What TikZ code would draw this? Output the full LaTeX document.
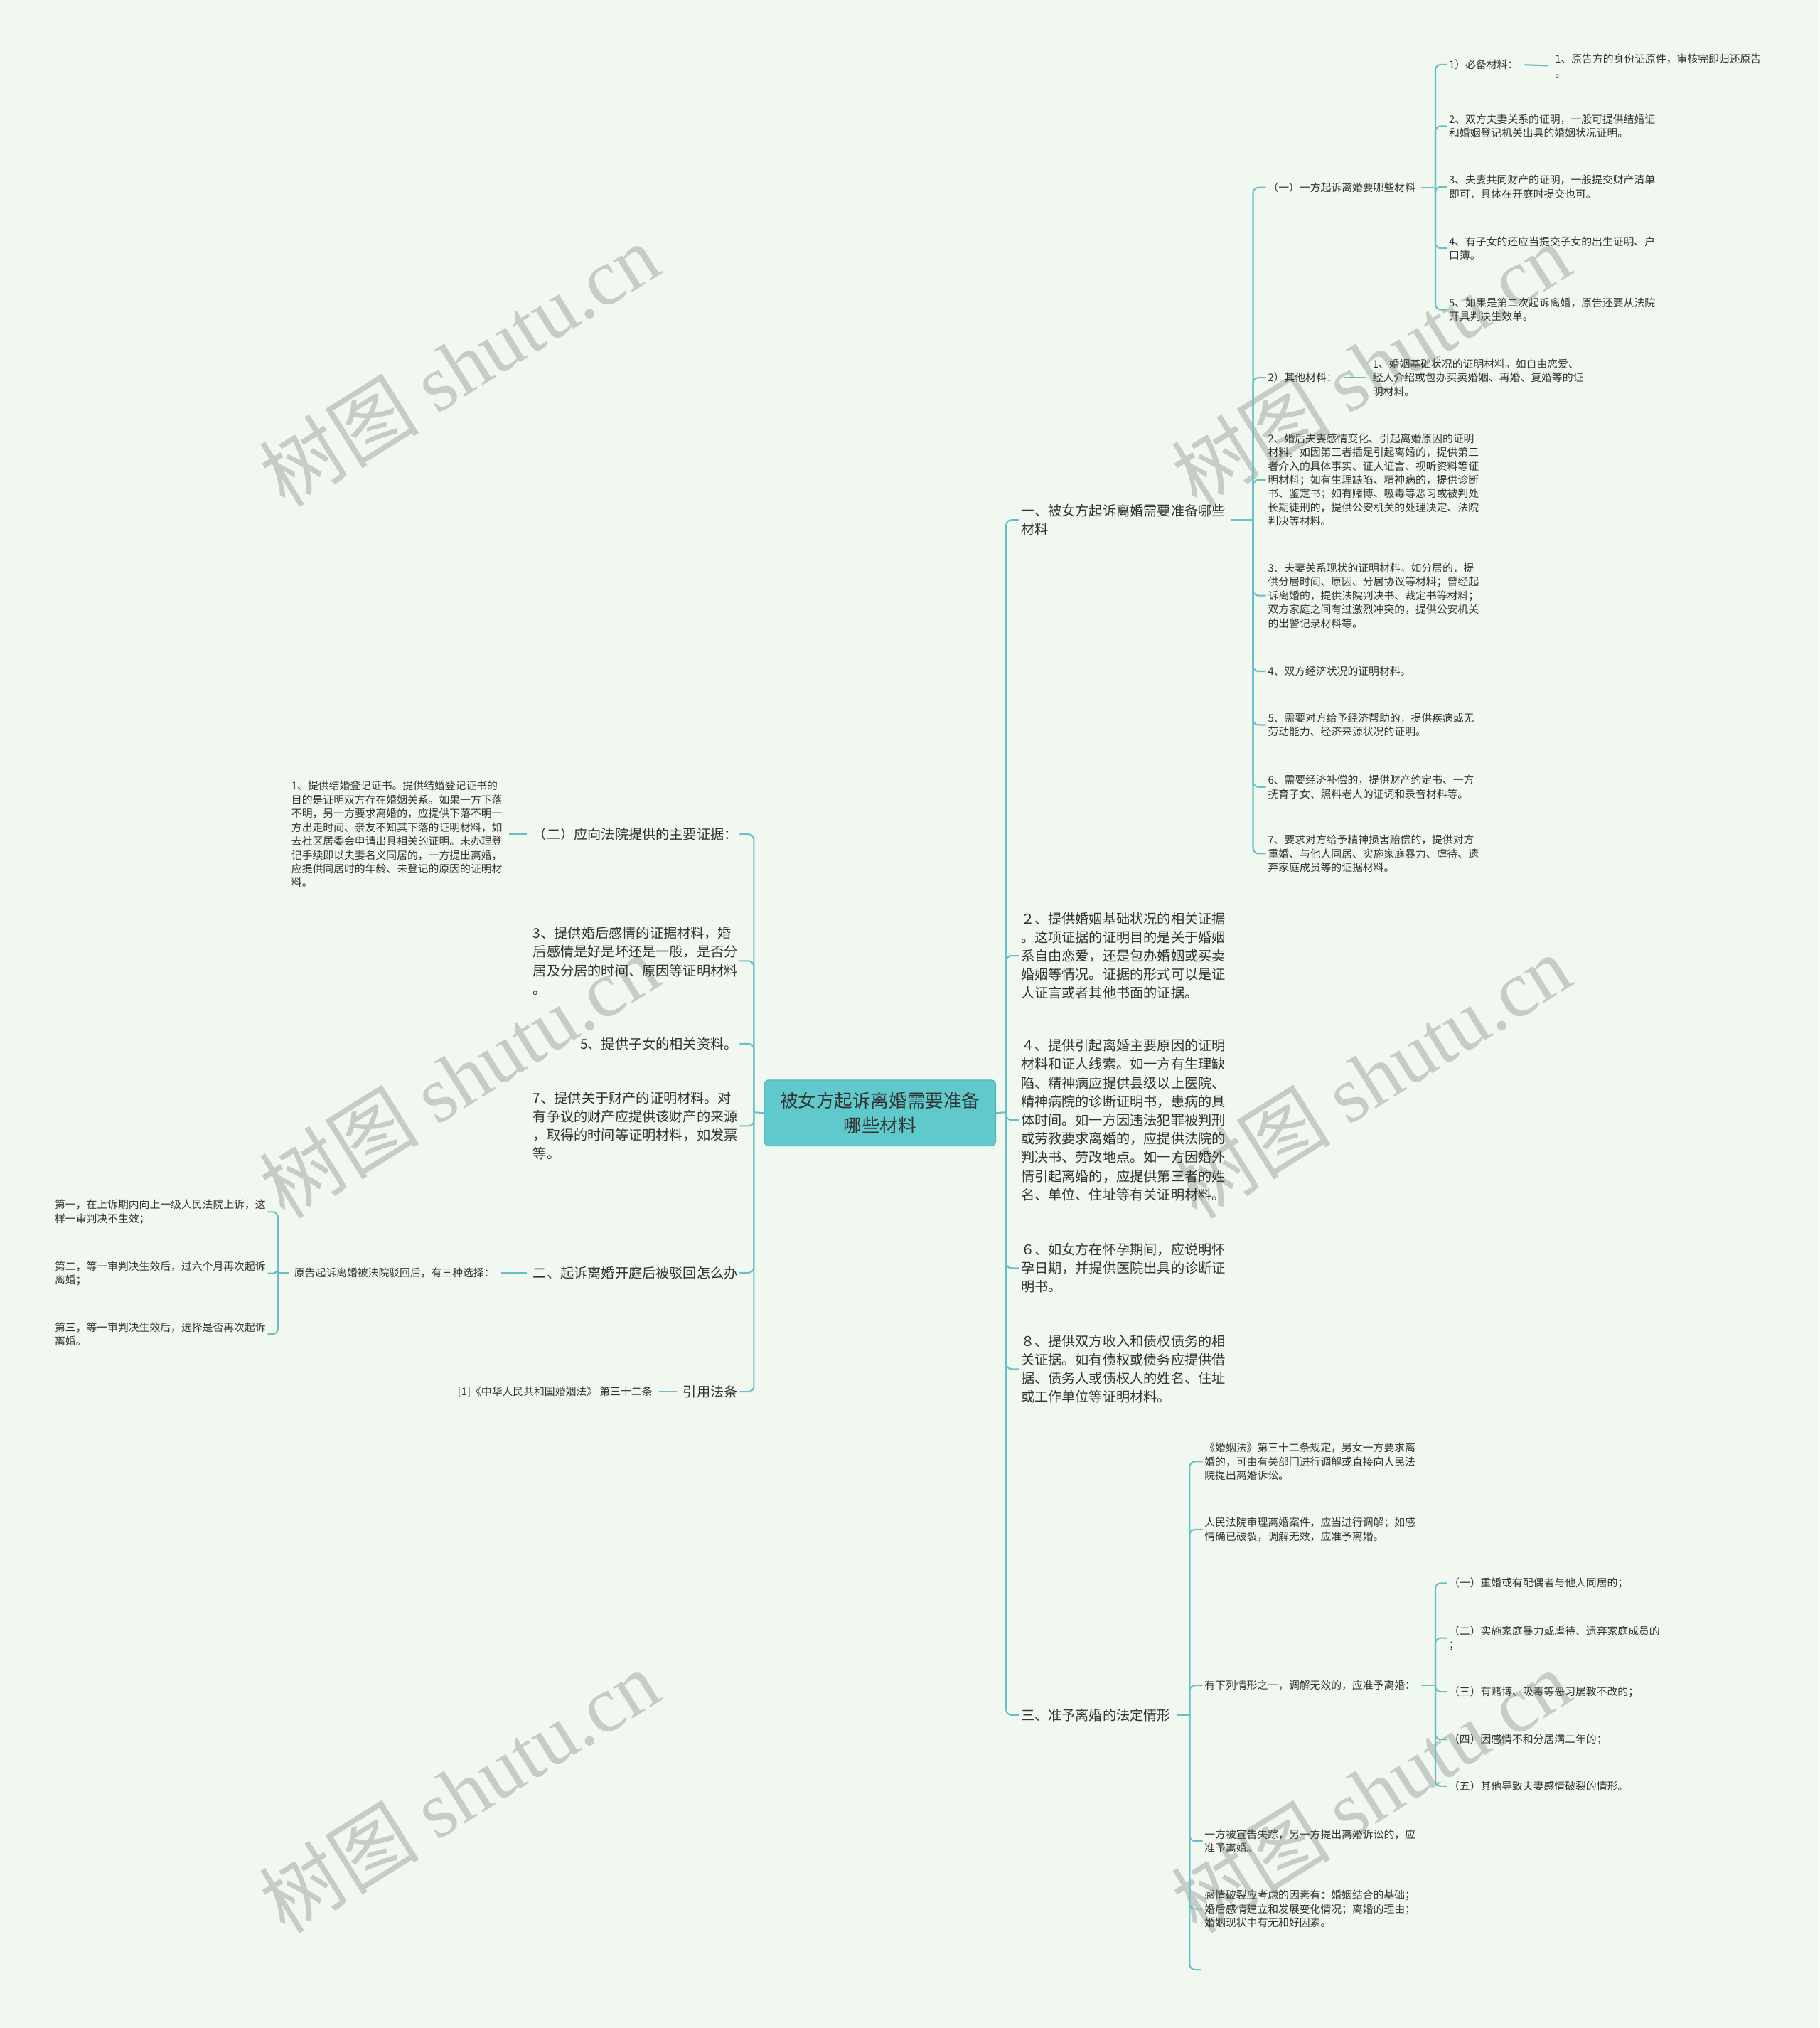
\documentclass[tikz,border=0pt]{standalone}
\usepackage{fontspec}
\setmainfont{Noto Sans CJK SC}
\newfontfamily\wmlatin{Liberation Serif}
\usetikzlibrary{positioning}

\definecolor{bgcol}{RGB}{240,248,239}
\definecolor{linecol}{RGB}{104,191,199}
\definecolor{rootfill}{RGB}{96,201,204}
\definecolor{txtcol}{RGB}{51,51,51}
\definecolor{wmcol}{RGB}{198,205,199}

\begin{document}
\begin{tikzpicture}[
    x=0.05cm, y=-0.05cm,
    root/.style={rectangle, rounded corners=5pt, fill=rootfill, draw=rootfill!88!black, line width=0.8pt, minimum width=8.95cm, minimum height=2.55cm, align=center, text=txtcol, font=\fontsize{20}{27}\selectfont},
    big/.style={align=left, inner xsep=2pt, inner ysep=1pt, text=txtcol, font=\fontsize{15}{20.5}\selectfont},
    small/.style={align=left, inner xsep=2pt, inner ysep=1pt, text=txtcol, font=\fontsize{11.6}{15.2}\selectfont},
    link/.style={draw=linecol, line width=1.6pt},
    hook/.style={link, rounded corners=6pt},
    stub/.style={link, shorten <=5pt, shorten >=5pt},
    wmark/.style={text=wmcol, rotate=32, font=\fontsize{88}{88}\selectfont}
]

% Page
\fill[bgcol] (0,0) rectangle (1407,1568);
\useasboundingbox (0,0) rectangle (1407,1568);

% Watermarks
\node[wmark] (wm1) at (355,282) {树图 {\wmlatin shutu.cn}};
\node[wmark] (wm2) at (1060,282) {树图 {\wmlatin shutu.cn}};
\node[wmark] (wm3) at (355,832) {树图 {\wmlatin shutu.cn}};
\node[wmark] (wm4) at (1060,832) {树图 {\wmlatin shutu.cn}};
\node[wmark] (wm5) at (355,1385) {树图 {\wmlatin shutu.cn}};
\node[wmark] (wm6) at (1060,1385) {树图 {\wmlatin shutu.cn}};

% Root
\node[root] (root) at (680.5,860.5) {被女方起诉离婚需要准备\\哪些材料};

% Right main branches
\coordinate (jr) at (778,860);
\node[big, anchor=west] (r1) at (788,402) {一、被女方起诉离婚需要准备哪些\\材料};
\node[big, anchor=west] (r2) at (788,739) {２、提供婚姻基础状况的相关证据\\。这项证据的证明目的是关于婚姻\\系自由恋爱，还是包办婚姻或买卖\\婚姻等情况。证据的形式可以是证\\人证言或者其他书面的证据。};
\node[big, anchor=west] (r3) at (788,866) {４、提供引起离婚主要原因的证明\\材料和证人线索。如一方有生理缺\\陷、精神病应提供县级以上医院、\\精神病院的诊断证明书，患病的具\\体时间。如一方因违法犯罪被判刑\\或劳教要求离婚的，应提供法院的\\判决书、劳改地点。如一方因婚外\\情引起离婚的，应提供第三者的姓\\名、单位、住址等有关证明材料。};
\node[big, anchor=west] (r4) at (788,980.5) {６、如女方在怀孕期间，应说明怀\\孕日期，并提供医院出具的诊断证\\明书。};
\node[big, anchor=west] (r5) at (788,1058.5) {８、提供双方收入和债权债务的相\\关证据。如有债权或债务应提供借\\据、债务人或债权人的姓名、住址\\或工作单位等证明材料。};
\node[big, anchor=west] (r6) at (788,1326) {三、准予离婚的法定情形};

\draw[link] (root.east) -- (jr);
\draw[hook] (jr) |- (r1.west);
\draw[hook] (jr) |- (r2.west);
\draw[hook] (jr) |- (r3.west);
\draw[hook] (jr) |- (r4.west);
\draw[hook] (jr) |- (r5.west);
\draw[hook] (jr) |- (r6.west);

% Branch one: materials
\coordinate (j1) at (969,402);
\node[small, anchor=west] (r1a) at (979,145) {（一）一方起诉离婚要哪些材料};
\node[small, anchor=west] (r1b) at (979,292) {2）其他材料：};
\node[small, anchor=west] (r1c) at (979,371) {2、婚后夫妻感情变化、引起离婚原因的证明\\材料。如因第三者插足引起离婚的，提供第三\\者介入的具体事实、证人证言、视听资料等证\\明材料；如有生理缺陷、精神病的，提供诊断\\书、鉴定书；如有赌博、吸毒等恶习或被判处\\长期徒刑的，提供公安机关的处理决定、法院\\判决等材料。};
\node[small, anchor=west] (r1d) at (979,460.5) {3、夫妻关系现状的证明材料。如分居的，提\\供分居时间、原因、分居协议等材料；曾经起\\诉离婚的，提供法院判决书、裁定书等材料；\\双方家庭之间有过激烈冲突的，提供公安机关\\的出警记录材料等。};
\node[small, anchor=west] (r1e) at (979,519) {4、双方经济状况的证明材料。};
\node[small, anchor=west] (r1f) at (979,560.5) {5、需要对方给予经济帮助的，提供疾病或无\\劳动能力、经济来源状况的证明。};
\node[small, anchor=west] (r1g) at (979,608.5) {6、需要经济补偿的，提供财产约定书、一方\\抚育子女、照料老人的证词和录音材料等。};
\node[small, anchor=west] (r1h) at (979,660) {7、要求对方给予精神损害赔偿的，提供对方\\重婚、与他人同居、实施家庭暴力、虐待、遗\\弃家庭成员等的证据材料。};

\draw[link, shorten <=4pt] (r1.east) -- (j1);
\draw[hook] (j1) |- (r1a.west);
\draw[hook] (j1) |- (r1b.west);
\draw[hook] (j1) |- (r1c.west);
\draw[hook] (j1) |- (r1d.west);
\draw[hook] (j1) |- (r1e.west);
\draw[hook] (j1) |- (r1f.west);
\draw[hook] (j1) |- (r1g.west);
\draw[hook] (j1) |- (r1h.west);

% (一) sub-items
\coordinate (j1a) at (1110,145);
\node[small, anchor=west] (a1) at (1119,50) {1）必备材料：};
\node[small, anchor=west] (a1x) at (1201,51) {1、原告方的身份证原件，审核完即归还原告\\。};
\node[small, anchor=west] (a2) at (1119,97.5) {2、双方夫妻关系的证明，一般可提供结婚证\\和婚姻登记机关出具的婚姻状况证明。};
\node[small, anchor=west] (a3) at (1119,144.5) {3、夫妻共同财产的证明，一般提交财产清单\\即可，具体在开庭时提交也可。};
\node[small, anchor=west] (a4) at (1119,192) {4、有子女的还应当提交子女的出生证明、户\\口簿。};
\node[small, anchor=west] (a5) at (1119,239.5) {5、如果是第二次起诉离婚，原告还要从法院\\开具判决生效单。};

\draw[link, shorten <=4pt] (r1a.east) -- (j1a);
\draw[hook] (j1a) |- (a1.west);
\draw[hook] (j1a) |- (a2.west);
\draw[hook] (j1a) |- (a3.west);
\draw[hook] (j1a) |- (a4.west);
\draw[hook] (j1a) |- (a5.west);
\draw[stub] (a1.east) -- (a1x.west);

% 2) other materials
\node[small, anchor=west] (b1x) at (1060,292) {1、婚姻基础状况的证明材料。如自由恋爱、\\经人介绍或包办买卖婚姻、再婚、复婚等的证\\明材料。};
\draw[stub] (r1b.east) -- (b1x.west);

% Branch three: legal grounds
\coordinate (j6) at (920,1326);
\node[small, anchor=west] (c1) at (930,1130) {《婚姻法》第三十二条规定，男女一方要求离\\婚的，可由有关部门进行调解或直接向人民法\\院提出离婚诉讼。};
\node[small, anchor=west] (c2) at (930,1182.5) {人民法院审理离婚案件，应当进行调解；如感\\情确已破裂，调解无效，应准予离婚。};
\node[small, anchor=west] (c3) at (930,1303) {有下列情形之一，调解无效的，应准予离婚：};
\node[small, anchor=west] (c4) at (930,1423.5) {一方被宣告失踪，另一方提出离婚诉讼的，应\\准予离婚。};
\node[small, anchor=west] (c5) at (930,1476) {感情破裂应考虑的因素有：婚姻结合的基础；\\婚后感情建立和发展变化情况；离婚的理由；\\婚姻现状中有无和好因素。};
\coordinate (c6) at (929,1523);

\draw[link, shorten <=4pt] (r6.east) -- (j6);
\draw[hook] (j6) |- (c1.west);
\draw[hook] (j6) |- (c2.west);
\draw[hook] (j6) |- (c3.west);
\draw[hook] (j6) |- (c4.west);
\draw[hook] (j6) |- (c5.west);
\draw[hook] (j6) |- (c6);

% Listed circumstances
\coordinate (j3) at (1110,1303);
\node[small, anchor=west] (d1) at (1119,1224) {（一）重婚或有配偶者与他人同居的；};
\node[small, anchor=west] (d2) at (1119,1266.5) {（二）实施家庭暴力或虐待、遗弃家庭成员的\\；};
\node[small, anchor=west] (d3) at (1119,1308) {（三）有赌博、吸毒等恶习屡教不改的；};
\node[small, anchor=west] (d4) at (1119,1345) {（四）因感情不和分居满二年的；};
\node[small, anchor=west] (d5) at (1119,1381) {（五）其他导致夫妻感情破裂的情形。};

\draw[link, shorten <=4pt] (c3.east) -- (j3);
\draw[hook] (j3) |- (d1.west);
\draw[hook] (j3) |- (d2.west);
\draw[hook] (j3) |- (d3.west);
\draw[hook] (j3) |- (d4.west);
\draw[hook] (j3) |- (d5.west);

% Left main branches
\coordinate (jl) at (583,860);
\node[big, anchor=east] (l1) at (572,645) {（二）应向法院提供的主要证据：};
\node[big, anchor=east] (l2) at (572,743) {3、提供婚后感情的证据材料，婚\\后感情是好是坏还是一般，是否分\\居及分居的时间、原因等证明材料\\。};
\node[big, anchor=east] (l3) at (572,807) {5、提供子女的相关资料。};
\node[big, anchor=east] (l4) at (572,870.5) {7、提供关于财产的证明材料。对\\有争议的财产应提供该财产的来源\\，取得的时间等证明材料，如发票\\等。};
\node[big, anchor=east] (l5) at (572,984) {二、起诉离婚开庭后被驳回怎么办};
\node[big, anchor=east] (l6) at (572,1076) {引用法条};

\draw[link] (root.west) -- (jl);
\draw[hook] (jl) |- (l1.east);
\draw[hook] (jl) |- (l2.east);
\draw[hook] (jl) |- (l3.east);
\draw[hook] (jl) |- (l4.east);
\draw[hook] (jl) |- (l5.east);
\draw[hook] (jl) |- (l6.east);

% Main evidence detail
\node[small, anchor=east] (l1x) at (390,645) {1、提供结婚登记证书。提供结婚登记证书的\\目的是证明双方存在婚姻关系。如果一方下落\\不明，另一方要求离婚的，应提供下落不明一\\方出走时间、亲友不知其下落的证明材料，如\\去社区居委会申请出具相关的证明。未办理登\\记手续即以夫妻名义同居的，一方提出离婚，\\应提供同居时的年龄、未登记的原因的证明材\\料。};
\draw[stub] (l1.west) -- (l1x.east);

% Rejected suit
\node[small, anchor=east] (l5x) at (384,984) {原告起诉离婚被法院驳回后，有三种选择：};
\draw[stub] (l5.west) -- (l5x.east);

\coordinate (j5) at (215,984);
\node[small, anchor=east] (e1) at (207,937) {第一，在上诉期内向上一级人民法院上诉，这\\样一审判决不生效；};
\node[small, anchor=east] (e2) at (207,984.5) {第二，等一审判决生效后，过六个月再次起诉\\离婚；};
\node[small, anchor=east] (e3) at (207,1031.5) {第三，等一审判决生效后，选择是否再次起诉\\离婚。};

\draw[link, shorten <=4pt] (l5x.west) -- (j5);
\draw[hook] (j5) |- (e1.east);
\draw[hook] (j5) |- (e2.east);
\draw[hook] (j5) |- (e3.east);

% Cited law
\node[small, anchor=east] (l6x) at (506,1076) {[1]《中华人民共和国婚姻法》 第三十二条};
\draw[stub] (l6.west) -- (l6x.east);

\end{tikzpicture}
\end{document}
